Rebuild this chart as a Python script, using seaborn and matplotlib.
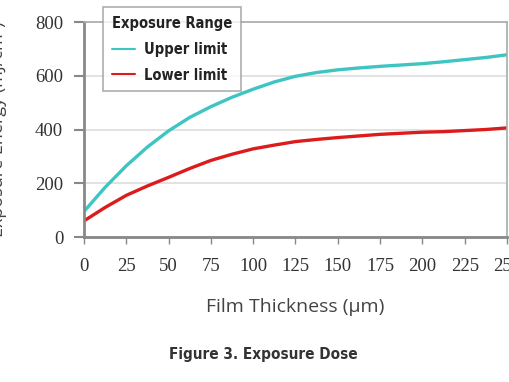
import matplotlib
matplotlib.use("Agg")
import matplotlib.pyplot as plt
from matplotlib import font_manager
import pandas as pd
import seaborn as sns

# values
thickness = [0, 12.5, 25, 37.5, 50, 62.5, 75, 87.5, 100, 112.5, 125, 137.5,
             150, 162.5, 175, 187.5, 200, 212.5, 225, 237.5, 250]
upper = [95, 185, 265, 335, 395, 445, 485, 520, 550, 577, 598, 612,
         622, 629, 635, 640, 645, 652, 660, 668, 678]
lower = [60, 110, 155, 190, 222, 255, 285, 308, 328, 342, 355, 363,
         370, 376, 382, 386, 390, 392, 396, 400, 406]
labels = ["Upper limit", "Lower limit"]
x_ticks = [0, 25, 50, 75, 100, 125, 150, 175, 200, 225, 250]
y_ticks = [0, 200, 400, 600, 800]

df = pd.DataFrame({
    "thickness": thickness * 2,
    "energy": upper + lower,
    "limit": [labels[0]] * len(upper) + [labels[1]] * len(lower),
})

sns.set_style("white")
serif = ["Liberation Serif", "DejaVu Serif"]


def narrow(size):
    return font_manager.FontProperties(family="DejaVu Sans", stretch="condensed",
                                       weight="bold", size=size)


fig = plt.figure(figsize=(5.1, 3.82), dpi=100)
ax = fig.add_axes([84 / 510, 145 / 382, 423 / 510, 215 / 382])

sns.lineplot(data=df, x="thickness", y="energy", hue="limit",
             palette={labels[0]: "#3ec4c3", labels[1]: "#dc1c1c"},
             linewidth=2.4, ax=ax)

ax.set_xlim(0, 250)
ax.set_ylim(0, 800)
ax.set_xticks(x_ticks)
ax.set_yticks(y_ticks)
ax.set_xticklabels([str(t) for t in x_ticks], family=serif, fontsize=13.5, color="#333333")
ax.set_yticklabels([str(t) for t in y_ticks], family=serif, fontsize=13.5, color="#333333")
ax.tick_params(axis="x", length=5, width=1, color="#888888", pad=10, direction="out", bottom=True)
ax.tick_params(axis="y", length=7, width=1.5, color="#888888", pad=8, direction="out", left=True)
ax.yaxis.grid(True, color="#dddddd", linewidth=1.2)
ax.set_axisbelow(True)
for s in ["left", "bottom"]:
    ax.spines[s].set_color("#888888")
    ax.spines[s].set_linewidth(2)
for s in ["top", "right"]:
    ax.spines[s].set_color("#aaaaaa")
    ax.spines[s].set_linewidth(1.2)

# the reference is cropped: the y label and the last x tick are cut at the edges
ax.set_xlabel("Film Thickness (μm)", family=["Open Sans", "DejaVu Sans"],
              fontsize=14, color="#444444", labelpad=17)
ax.set_ylabel("Exposure Energy (mJ/cm²)", family=["Open Sans", "DejaVu Sans"],
              fontsize=13, color="#444444")
ax.yaxis.set_label_coords(-0.183, 0.5)

leg = ax.legend(title="Exposure Range", loc="upper left",
                bbox_to_anchor=(0.045, 1.07), borderaxespad=0,
                frameon=True, fancybox=False, handlelength=1.6,
                handletextpad=0.6, labelspacing=0.75, borderpad=0.6,
                prop=narrow(10.5))
leg.get_title().set_fontproperties(narrow(10.5))
leg._legend_box.align = "left"
leg.get_frame().set_edgecolor("#999999")
leg.get_frame().set_linewidth(1.2)
for t in leg.get_texts():
    t.set_color("#222222")
leg.get_title().set_color("#222222")
for h in leg.get_lines():
    h.set_linewidth(1.5)

fig.text(263 / 510, 1 - 355 / 382, "Figure 3. Exposure Dose",
         fontproperties=narrow(11), color="#333333",
         ha="center", va="center")

fig.savefig("out.png", dpi=100)
